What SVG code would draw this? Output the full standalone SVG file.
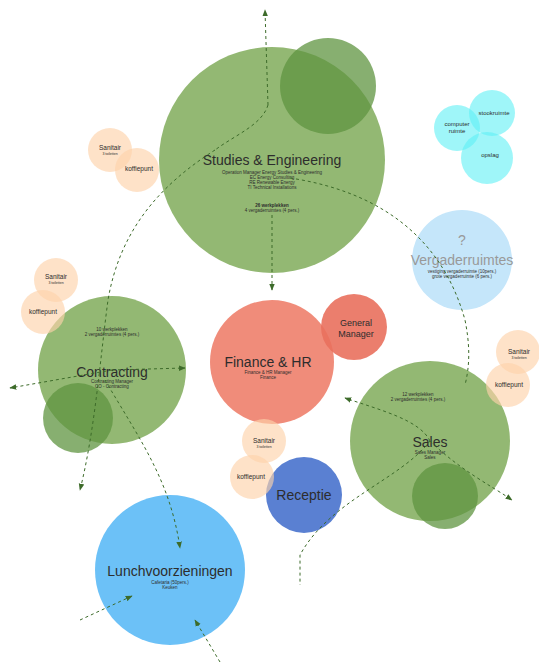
<svg xmlns="http://www.w3.org/2000/svg" width="539" height="664" viewBox="0 0 539 664">
<defs>
<style>
text{font-family:"Liberation Sans",Arial,sans-serif;text-anchor:middle;fill:#2d2d2d}
.t{font-size:14px}
.s{font-size:4.5px}
.m{font-size:9px}
.g{fill:#8db46c;opacity:.95}
.gd{fill:#5f9440;opacity:.75}
.san{fill:#fdd3aa;opacity:.65}
.cy{fill:#5ff0f5;opacity:.6}
.c{fill:none;stroke:#3d6b2a;stroke-width:1;stroke-dasharray:3 3}
</style>
<marker id="a" viewBox="0 0 10 10" refX="9" refY="5" markerWidth="7" markerHeight="7" orient="auto"><path d="M0,1 L10,5 L0,9 z" fill="#3d6b2a"/></marker>
</defs>
<rect width="539" height="664" fill="#fff"/>
<g id="studies">
<circle class="g" cx="272" cy="160" r="113"/>
<circle class="gd" cx="328" cy="86" r="48"/>
<text class="t" x="272" y="165">Studies &amp; Engineering</text>
<text class="s" x="272" y="174">Operation Manager Energy Studies &amp; Engineering</text>
<text class="s" x="272" y="179">EC Energy Consulting</text>
<text class="s" x="272" y="184">RE Renewable Energy</text>
<text class="s" x="272" y="189">TI Technical Installations</text>
<text class="s" x="272" y="207" font-weight="bold">26 werkplekken</text>
<text class="s" x="272" y="212">4 vergaderruimtes (4 pers.)</text>
</g>
<g id="contracting">
<circle class="g" cx="112" cy="370" r="74"/>
<circle class="gd" cx="78" cy="418" r="35"/>
<text class="s" x="112" y="331">10 werkplekken</text>
<text class="s" x="112" y="336">2 vergaderruimtes (4 pers.)</text>
<text class="t" x="112" y="377">Contracting</text>
<text class="s" x="112" y="383">Contracting Manager</text>
<text class="s" x="112" y="388">CO - Contracting</text>
</g>
<g id="finance">
<circle fill="#ef8673" opacity=".95" cx="272" cy="362" r="62"/>
<text class="t" x="268" y="367">Finance &amp; HR</text>
<text class="s" x="268" y="374">Finance &amp; HR Manager</text>
<text class="s" x="268" y="379">Finance</text>
</g>
<g id="gm">
<circle fill="#e9705d" opacity=".9" cx="354" cy="327" r="33"/>
<text class="m" x="356" y="326">General</text>
<text class="m" x="356" y="337">Manager</text>
</g>
<g id="sales">
<circle class="g" cx="430" cy="441" r="80"/>
<circle class="gd" cx="445" cy="496" r="33"/>
<text class="s" x="418" y="396">12 werkplekken</text>
<text class="s" x="418" y="401">2 vergaderruimtes (4 pers.)</text>
<text class="t" x="430" y="447">Sales</text>
<text class="s" x="430" y="454">Sales Manager</text>
<text class="s" x="430" y="459">Sales</text>
</g>
<g id="receptie">
<circle fill="#5a80d2" cx="304" cy="495" r="38"/>
<text class="t" x="304" y="500">Receptie</text>
</g>
<g id="lunch">
<circle fill="#6cc1f7" cx="170" cy="570" r="75"/>
<text class="t" x="170" y="576">Lunchvoorzieningen</text>
<text class="s" x="170" y="584">Cafetaria (50pers.)</text>
<text class="s" x="170" y="589">Keuken</text>
</g>
<g id="vergader">
<circle fill="#c5e6fa" cx="462" cy="260" r="50"/>
<text class="t" x="462" y="245" style="fill:#999">?</text>
<text class="t" x="462" y="265" style="fill:#999">Vergaderruimtes</text>
<text class="s" x="462" y="273">vestiging vergaderruimte (10pers.)</text>
<text class="s" x="462" y="278">grote vergaderruimte (6 pers.)</text>
</g>
<g id="technisch">
<circle class="cy" cx="457" cy="128" r="23"/>
<circle class="cy" cx="492" cy="113" r="23"/>
<circle class="cy" cx="487" cy="158" r="26"/>
<text class="s" x="457" y="126" style="font-size:6px">computer</text>
<text class="s" x="457" y="133" style="font-size:6px">ruimte</text>
<text class="s" x="494" y="115" style="font-size:6px">stookruimte</text>
<text class="s" x="490" y="157" style="font-size:6px">opslag</text>
</g>
<g id="sanitair1">
<circle class="san" cx="110" cy="150" r="22"/>
<circle class="san" cx="137" cy="170" r="22"/>
<text x="110" y="150" style="font-size:6.5px">Sanitair</text>
<text x="110" y="155" style="font-size:3.5px">3 toiletten</text>
<text x="139" y="171" style="font-size:6.5px">koffiepunt</text>
</g>
<g id="sanitair2">
<circle class="san" cx="56" cy="280" r="22"/>
<circle class="san" cx="43" cy="312" r="22"/>
<text x="56" y="279" style="font-size:6.5px">Sanitair</text>
<text x="56" y="284" style="font-size:3.5px">3 toiletten</text>
<text x="43" y="314" style="font-size:6.5px">koffiepunt</text>
</g>
<g id="sanitair3">
<circle class="san" cx="518" cy="352" r="22"/>
<circle class="san" cx="508" cy="385" r="22"/>
<text x="519" y="354" style="font-size:6.5px">Sanitair</text>
<text x="519" y="359" style="font-size:3.5px">3 toiletten</text>
<text x="509" y="387" style="font-size:6.5px">koffiepunt</text>
</g>
<g id="sanitair4">
<circle class="san" cx="264" cy="441" r="22"/>
<circle class="san" cx="252" cy="477" r="22"/>
<text x="264" y="443" style="font-size:6.5px">Sanitair</text>
<text x="264" y="448" style="font-size:3.5px">3 toiletten</text>
<text x="251" y="479" style="font-size:6.5px">koffiepunt</text>
</g>
<g id="connectors">
<path class="c" d="M268,105 L265,10" marker-end="url(#a)"/>
<path class="c" d="M268,105 C262,125 235,135 215,150"/>
<path class="c" d="M272,215 L272,290" marker-end="url(#a)"/>
<path class="c" d="M290,178 C370,190 440,230 465,320 C470,345 470,365 465,385"/>
<path class="c" d="M215,150 C160,185 120,230 108,300 C100,360 95,430 80,490" marker-end="url(#a)"/>
<path class="c" d="M112,370 L10,388" marker-end="url(#a)"/>
<path class="c" d="M112,370 L185,368" marker-end="url(#a)"/>
<path class="c" d="M105,380 C140,440 170,480 180,548" marker-end="url(#a)"/>
<path class="c" d="M430,441 C420,420 380,410 345,398" marker-end="url(#a)"/>
<path class="c" d="M430,441 C460,470 490,485 512,500" marker-end="url(#a)"/>
<path class="c" d="M430,441 C400,480 330,500 300,555 L300,585"/>
<path class="c" d="M80,620 L132,596" marker-end="url(#a)"/>
<path class="c" d="M220,662 L195,620" marker-end="url(#a)"/>
</g>
</svg>
